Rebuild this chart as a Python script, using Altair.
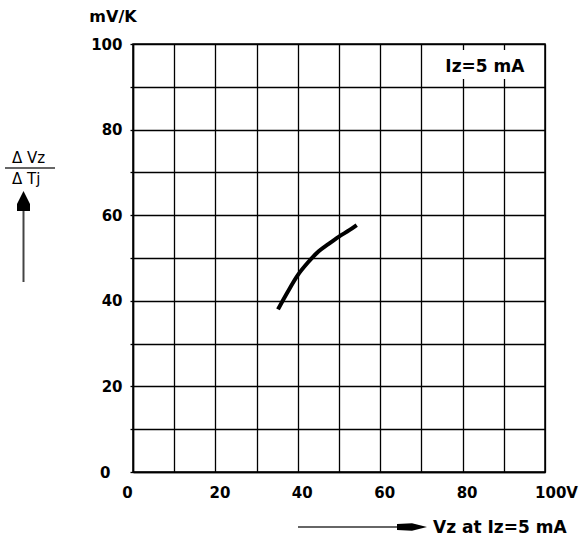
import altair as alt
import pandas as pd

# ---- data ----
vz = [35.2, 37.5, 40.0, 42.5, 45.0, 47.5, 50.0, 52.5, 54.3]
dvz_dtj = [38.0, 42.0, 46.0, 49.0, 51.5, 53.3, 55.0, 56.5, 57.7]
x_grid = [0, 10, 20, 30, 40, 50, 60, 70, 80, 90, 100]
y_grid = [0, 10, 20, 30, 40, 50, 60, 70, 80, 90, 100]
box_text = ["Iz=5 mA"]
unit_text = ["mV/K"]
frac_top = ["\u0394 Vz"]
frac_bottom = ["\u0394 Tj"]
x_title = ["Vz at Iz=5 mA"]

FONT = "DejaVu Sans"
W, H = 412, 428

curve = pd.DataFrame({"vz": vz, "d": dvz_dtj})
box = pd.DataFrame({"x1": [75.7], "x2": [95.1], "y1": [91.8], "y2": [98.6],
                    "tx": [85.4], "ty": [93.5], "t": box_text})
one = pd.DataFrame({"a": [0]})

xscale = alt.Scale(domain=[0, 100], nice=False, zero=False)
yscale = alt.Scale(domain=[0, 100], nice=False, zero=False)

xaxis = alt.Axis(
    values=x_grid, grid=True, gridColor="black", gridWidth=1.3, gridOpacity=1,
    domainColor="black", domainWidth=1.5, ticks=False,
    labelExpr="datum.value % 20 == 0 ? (datum.value == 100 ? '100V' : datum.label) : ''",
    labelFont=FONT, labelFontWeight="bold", labelFontSize=15, labelColor="black",
    labelPadding=13, labelOverlap=False, labelFlush=False,
    labelOffset={"condition": [{"test": "datum.value == 0", "value": -6},
                               {"test": "datum.value == 100", "value": 11}],
                 "value": 4},
    title=None,
)
yaxis = alt.Axis(
    values=y_grid, grid=True, gridColor="black", gridWidth=1.3, gridOpacity=1,
    domainColor="black", domainWidth=1.5, ticks=True, tickSize=3, tickColor="black",
    tickWidth=1.3,
    labelExpr="datum.value % 20 == 0 ? datum.label : ''",
    labelFont=FONT, labelFontWeight="bold", labelFontSize=15, labelColor="black",
    labelPadding={"condition": {"test": "datum.value == 0", "value": 20}, "value": 8},
    labelOverlap=False, labelFlush=False,
    title=None,
)

line = alt.Chart(curve).mark_line(color="black", strokeWidth=4, interpolate="monotone").encode(
    x=alt.X("vz:Q", scale=xscale, axis=xaxis),
    y=alt.Y("d:Q", scale=yscale, axis=yaxis),
)

white_box = alt.Chart(box).mark_rect(color="white", opacity=1).encode(
    x="x1:Q", x2="x2:Q", y="y1:Q", y2="y2:Q"
)
box_label = alt.Chart(box).mark_text(
    font=FONT, fontSize=17, fontWeight="bold", color="black", align="center", baseline="alphabetic"
).encode(x="tx:Q", y="ty:Q", text="t:N")

unit = alt.Chart(pd.DataFrame({"t": unit_text})).mark_text(
    font=FONT, fontSize=16, fontWeight="bold", color="black", align="center", baseline="alphabetic"
).encode(x=alt.value(-20), y=alt.value(-22), text="t:N")

ftop = alt.Chart(pd.DataFrame({"t": frac_top})).mark_text(
    font=FONT, fontSize=15, color="black", align="left", baseline="alphabetic"
).encode(x=alt.value(-121), y=alt.value(119), text="t:N")
fbot = alt.Chart(pd.DataFrame({"t": frac_bottom})).mark_text(
    font=FONT, fontSize=15, color="black", align="left", baseline="alphabetic"
).encode(x=alt.value(-121), y=alt.value(140), text="t:N")
fline = alt.Chart(one).mark_rule(color="#333", strokeWidth=1.5).encode(
    x=alt.value(-128), x2=alt.value(-78), y=alt.value(124)
)

yarrow = alt.Chart(one).mark_rule(color="#444", strokeWidth=2).encode(
    x=alt.value(-109.5), y=alt.value(238), y2=alt.value(160)
)
yhead = alt.Chart(one).mark_point(
    shape="M0,-1 L0.25,-0.5 L0.65,0.3 L0.65,1 L-0.65,1 L-0.65,0.3 L-0.25,-0.5 Z",
    size=400, filled=True, color="black", opacity=1
).encode(x=alt.value(-109.5), y=alt.value(157))

xarrow = alt.Chart(one).mark_rule(color="#333", strokeWidth=1.5).encode(
    x=alt.value(165), x2=alt.value(268), y=alt.value(483)
)
xhead = alt.Chart(one).mark_point(
    shape="M-1,-0.2 L0,-0.25 L1,0 L0,0.25 L-1,0.2 Z",
    size=900, filled=True, color="black", opacity=1
).encode(x=alt.value(279), y=alt.value(483))

xlabel = alt.Chart(pd.DataFrame({"t": x_title})).mark_text(
    font=FONT, fontSize=17, fontWeight="bold", color="black", align="left", baseline="alphabetic"
).encode(x=alt.value(300), y=alt.value(489), text="t:N")

chart = alt.layer(
    line, white_box, box_label, unit, ftop, fbot, fline, yarrow, yhead, xarrow, xhead, xlabel
).properties(
    width=W, height=H,
    autosize=alt.AutoSizeParams(type="none"),
    padding={"left": 133, "top": 44, "right": 38, "bottom": 64},
    background="white",
).configure_view(stroke="black", strokeWidth=1.5)

chart.save("out.html", embed_options={"renderer": "svg", "actions": False})
